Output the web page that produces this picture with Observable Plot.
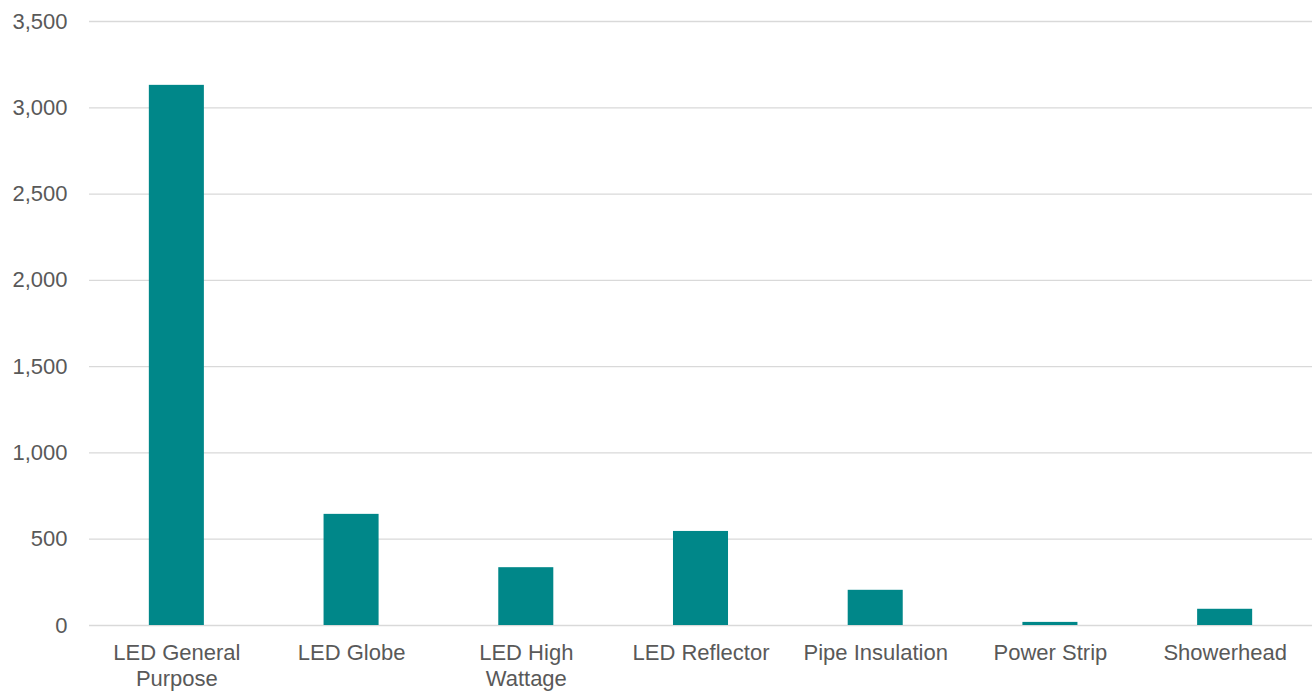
<!DOCTYPE html>
<html>
<head>
<meta charset="utf-8">
<script src="https://cdn.jsdelivr.net/npm/d3@7"></script>
<script src="https://cdn.jsdelivr.net/npm/@observablehq/plot@0.6"></script>
<style>
  html, body { margin: 0; padding: 0; background: #fff; }
  #chart { width: 1312px; height: 692px; }
</style>
</head>
<body>
<div id="chart"></div>
<script>
const categories = ["LED General Purpose", "LED Globe", "LED High Wattage", "LED Reflector", "Pipe Insulation", "Power Strip", "Showerhead"];
const tickLabels = ["LED General\nPurpose", "LED Globe", "LED High\nWattage", "LED Reflector", "Pipe Insulation", "Power Strip", "Showerhead"];
const values = [3130, 644, 335, 545, 204, 18, 94];
const yTicks = [0, 500, 1000, 1500, 2000, 2500, 3000, 3500];

const data = categories.map((c, i) => ({category: c, value: values[i]}));
const labelOf = new Map(categories.map((c, i) => [c, tickLabels[i]]));

const chart = Plot.plot({
  width: 1312,
  height: 692,
  marginLeft: 89,
  marginRight: 0,
  marginTop: 21,
  marginBottom: 67,
  style: {fontFamily: "'Liberation Sans', Arial, sans-serif", fontSize: "22px", color: "#595959", background: "#fff"},
  x: {domain: categories, paddingInner: 0.685, paddingOuter: 0.3425, round: false, label: null},
  y: {domain: [0, 3500], label: null},
  marks: [
    Plot.gridY(yTicks, {stroke: "#d9d9d9", strokeOpacity: 1, strokeWidth: 1.3}),
    Plot.barY(data, {x: "category", y: "value", fill: "#008789"}),
    Plot.axisY(yTicks, {tickSize: 0, tickPadding: 22, tickFormat: d3.format(","), fontSize: 22, fill: "#595959"}),
    Plot.axisX({tickSize: 0, tickPadding: 16, tickFormat: d => labelOf.get(d), fontSize: 22, fill: "#595959", lineHeight: 1.17})
  ]
});
document.getElementById("chart").appendChild(chart);
</script>
</body>
</html>
